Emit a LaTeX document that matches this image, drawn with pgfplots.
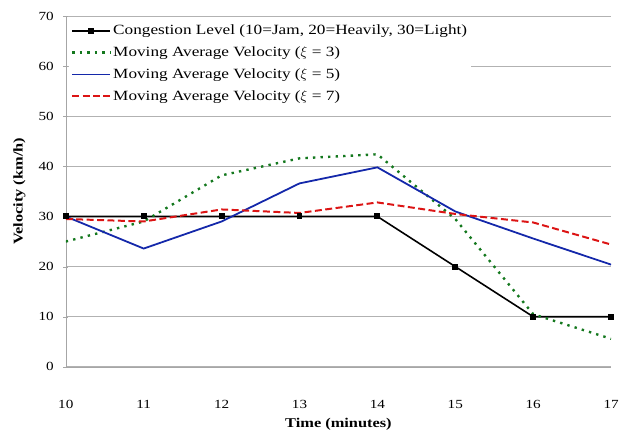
\documentclass[border=0pt]{standalone}
\usepackage{pgfplots}
\pgfplotsset{compat=1.18}
\usepackage{fontspec}
\setmainfont{Liberation Serif}[FakeStretch=1.22]
\definecolor{cgreen}{RGB}{20,120,30}
\definecolor{cblue}{RGB}{20,40,170}
\definecolor{cred}{RGB}{220,20,20}
\begin{document}
\begin{tikzpicture}
\begin{axis}[
    scale only axis,
    width=547bp, height=352bp,
    xmin=10, xmax=17, ymin=0, ymax=70,
    xtick={10,...,17}, ytick={0,10,...,70},
    axis x line=bottom, axis y line=left,
    axis line style={gray!70, -},
    ytick style={gray!70}, xtick style={draw=none},
    major tick length=5bp,
    ymajorgrids, grid style={gray!60, line width=0.8pt},
    tick label style={font=\fontsize{12.5}{14}\selectfont},
    /pgf/number format/assume math mode=true,
    xticklabel style={anchor=center, yshift=-35bp},
    yticklabel style={anchor=east, xshift=-6bp},
    xlabel={\fontsize{13.5}{15}\selectfont\bfseries Time (minutes)},
    ylabel={\fontsize{13.5}{15}\selectfont\bfseries Velocity (km/h)},
    every axis x label/.style={at={(axis description cs:0.5,-0.164)}, anchor=center},
    every axis y label/.style={at={(axis description cs:-0.085,0.5)}, anchor=center, rotate=90},
    legend style={at={(axis description cs:0,1)}, anchor=north west, xshift=3bp, yshift=-5bp,
        draw=none, fill=white,
        font=\fontsize{14.2}{16}\selectfont, row sep=6.5bp, inner sep=2pt},
    legend cell align=left,
    legend image code/.code={\draw[mark repeat=2, mark phase=2, #1] plot coordinates {(0bp,0bp) (19bp,0bp) (38bp,0bp)};},
]
\addplot[black, line width=1.6pt, mark=square*, mark size=2.2pt] coordinates {
 (10,30) (11,30) (12,30) (13,30) (14,30) (15,20) (16,10) (17,10)};
\addlegendentry{Congestion Level (10=Jam, 20=Heavily, 30=Light)}
\addplot[cgreen, line width=2.4pt, dash pattern=on 2.4pt off 5.2pt] coordinates {
 (10,25) (11,29) (12,38.2) (13,41.6) (14,42.4) (15,29.5) (16,10.5) (17,5.6)};
\addlegendentry{Moving Average Velocity ($\xi$ = 3)}
\addplot[cblue, line width=1.8pt] coordinates {
 (10,30) (11,23.6) (12,29) (13,36.6) (14,39.8) (15,31) (16,25.6) (17,20.4)};
\addlegendentry{Moving Average Velocity ($\xi$ = 5)}
\addplot[cred, line width=2pt, dash pattern=on 7pt off 3.5pt] coordinates {
 (10,29.5) (11,29) (12,31.4) (13,30.7) (14,32.8) (15,30.5) (16,28.8) (17,24.4)};
\addlegendentry{Moving Average Velocity ($\xi$ = 7)}
\end{axis}
\path (current axis.north west) ++(-66bp,16bp);
\path (current axis.south east) ++(9bp,-65bp);
\end{tikzpicture}
\end{document}
